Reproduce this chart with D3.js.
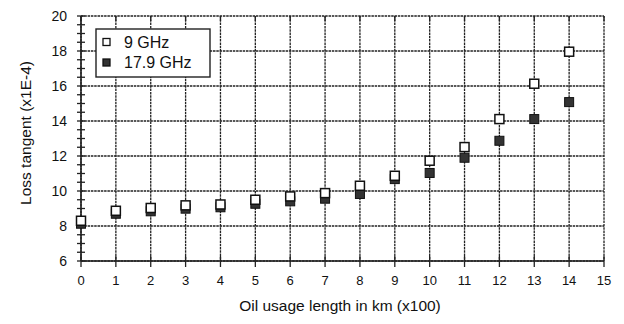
<!DOCTYPE html>
<html>
<head>
<meta charset="utf-8">
<script src="https://cdn.jsdelivr.net/npm/d3@7"></script>
<style>
  body { margin: 0; background: #fff; }
  svg { display: block; }
  text { font-family: "Liberation Sans", Arial, sans-serif; fill: #111; }
</style>
</head>
<body>
<svg id="chart" width="624" height="324"></svg>
<script>
// Oil usage length (x100 km)
const lengths = [0, 1, 2, 3, 4, 5, 6, 7, 8, 9, 10, 11, 12, 13, 14];
// Loss tangent (x1E-4) at each frequency
const loss9GHz  = [8.3, 8.87, 9.03, 9.18, 9.23, 9.5, 9.69, 9.88, 10.3, 10.87, 11.73, 12.51, 14.11, 16.13, 17.96];
const loss179GHz = [8.13, 8.7, 8.84, 8.99, 9.07, 9.27, 9.41, 9.56, 9.83, 10.68, 11.03, 11.9, 12.87, 14.11, 15.08];
const xTicks = [0, 1, 2, 3, 4, 5, 6, 7, 8, 9, 10, 11, 12, 13, 14, 15];
const yTicks = [6, 8, 10, 12, 14, 16, 18, 20];
const seriesNames = ["9 GHz", "17.9 GHz"];

const svg = d3.select("#chart");
const pL = 81, pR = 604, pT = 16, pB = 261;
const x = d3.scaleLinear().domain([0, 15]).range([pL, pR]);
const y = d3.scaleLinear().domain([6, 20]).range([pB, pT]);
const ink = "#222";

// grid
const grid = svg.append("g").attr("stroke", ink).attr("stroke-width", 1.3);
grid.selectAll("line.v").data(xTicks).join("line")
  .attr("x1", d => x(d)).attr("x2", d => x(d))
  .attr("y1", pT).attr("y2", pB)
  .attr("stroke-dasharray", "2.5,0.8");
grid.selectAll("line.h").data(yTicks).join("line")
  .attr("x1", pL).attr("x2", pR)
  .attr("y1", d => y(d)).attr("y2", d => y(d))
  .attr("stroke-dasharray", "2.5,0.8");

// y axis with minor ticks crossing the axis
const yMinor = d3.range(6, 20.01, 0.5);
const yAx = svg.append("g").attr("stroke", ink);
yAx.append("line").attr("x1", pL).attr("x2", pL).attr("y1", pT).attr("y2", pB).attr("stroke-width", 1.6);
yAx.selectAll("line.t").data(yMinor).join("line")
  .attr("x1", pL - 4).attr("x2", pL + 4)
  .attr("y1", d => y(d)).attr("y2", d => y(d)).attr("stroke-width", 1.3);
svg.append("g").selectAll("text").data(yTicks).join("text")
  .attr("x", 67).attr("y", d => y(d) + 5)
  .attr("text-anchor", "end").attr("font-size", 14).text(d => d);

// x axis, ticks crossing the axis line
const xAx = svg.append("g").attr("stroke", ink);
xAx.append("line").attr("x1", pL).attr("x2", pR).attr("y1", pB).attr("y2", pB).attr("stroke-width", 1.6);
xAx.selectAll("line.t").data(xTicks).join("line")
  .attr("x1", d => x(d)).attr("x2", d => x(d))
  .attr("y1", pB - 5).attr("y2", pB + 6).attr("stroke-width", 1.3);
// top ticks
xAx.selectAll("line.tt").data(xTicks).join("line")
  .attr("x1", d => x(d)).attr("x2", d => x(d))
  .attr("y1", pT).attr("y2", pT + 5).attr("stroke-width", 1.3);
svg.append("g").selectAll("text").data(xTicks).join("text")
  .attr("x", d => x(d)).attr("y", 285)
  .attr("text-anchor", "middle").attr("font-size", 13).text(d => d);

// axis titles
svg.append("text").attr("x", 340).attr("y", 311).attr("text-anchor", "middle")
  .attr("font-size", 15.5).text("Oil usage length in km (x100)");
svg.append("text").attr("transform", "translate(31,133) rotate(-90)")
  .attr("text-anchor", "middle").attr("font-size", 15.5).text("Loss tangent  (x1E-4)");

// markers
const s = 9;
svg.append("g").selectAll("rect").data(lengths).join("rect")
  .attr("x", (d) => x(d) - s / 2).attr("y", (d, i) => y(loss179GHz[i]) - s / 2)
  .attr("width", s).attr("height", s)
  .attr("fill", "#333").attr("stroke", "#111").attr("stroke-width", 1);
svg.append("g").selectAll("rect").data(lengths).join("rect")
  .attr("x", (d) => x(d) - s / 2).attr("y", (d, i) => y(loss9GHz[i]) - s / 2)
  .attr("width", s).attr("height", s)
  .attr("fill", "#fff").attr("stroke", "#111").attr("stroke-width", 1.5);

// legend
const lg = svg.append("g");
lg.append("rect").attr("x", 96).attr("y", 29).attr("width", 114).attr("height", 48)
  .attr("fill", "#fff").attr("stroke", ink).attr("stroke-width", 1.4);
seriesNames.forEach((name, i) => {
  const cy = 42 + i * 20.5;
  lg.append("rect").attr("x", 103).attr("y", cy - 3.5).attr("width", 7).attr("height", 7)
    .attr("fill", i === 0 ? "#fff" : "#333").attr("stroke", "#111").attr("stroke-width", 1.3);
  lg.append("text").attr("x", 124).attr("y", cy + 5.5).attr("font-size", 16).text(name);
});
</script>
</body>
</html>
